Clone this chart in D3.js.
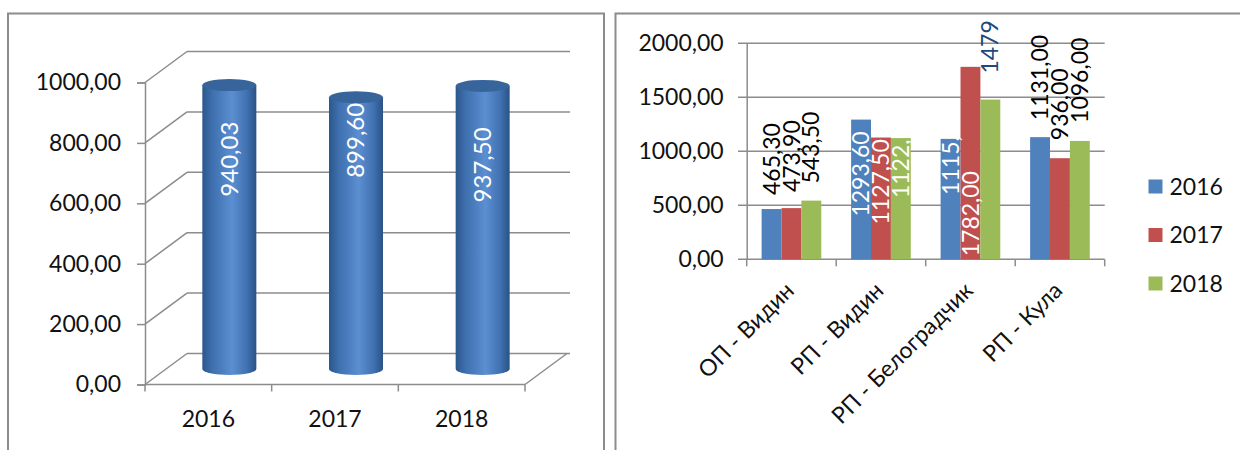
<!DOCTYPE html>
<html>
<head>
<meta charset="utf-8">
<script src="https://cdn.jsdelivr.net/npm/d3@7"></script>
<style>
  body { margin: 0; background: #fff; }
  svg { display: block; font-family: Lato, "Open Sans", sans-serif; }
</style>
</head>
<body>
<script>
// data - left chart (cylinders)
var years = ["2016", "2017", "2018"];
var totals = [940.03, 899.60, 937.50];
var totalLabels = ["940,03", "899,60", "937,50"];
var leftTicks = [0, 200, 400, 600, 800, 1000];

// data - right chart (grouped bars)
var units = ["ОП - Видин", "РП - Видин", "РП - Белоградчик", "РП - Кула"];
var values2016 = [465.30, 1293.60, 1115.00, 1131.00];
var values2017 = [473.90, 1127.50, 1782.00, 936.00];
var values2018 = [543.50, 1122.50, 1479.00, 1096.00];
var labels2016 = ["465,30", "1293,60", "1115,00", "1131,00"];
var labels2017 = ["473,90", "1127,50", "1782,00", "936,00"];
var labels2018 = ["543,50", "1122,50", "1479", "1096,00"];
var rightTicks = [0, 500, 1000, 1500, 2000];

var fmt = function(v){ return d3.format(".2f")(v).replace(".", ","); };

var svg = d3.select("body").append("svg")
    .attr("width", 1240)
    .attr("height", 450);

var defs = svg.append("defs");
var grad = defs.append("linearGradient").attr("id", "cyl")
    .attr("x1", "0%").attr("x2", "100%").attr("y1", "0%").attr("y2", "0%");
[["0%", "#2b578b"], ["18%", "#3e6fae"], ["55%", "#5b8fd1"], ["82%", "#4172b2"], ["100%", "#2a5285"]]
  .forEach(function(s){ grad.append("stop").attr("offset", s[0]).attr("stop-color", s[1]); });

// panel frames
svg.append("rect").attr("x", 8).attr("y", 13.5).attr("width", 596).attr("height", 460)
    .attr("fill", "none").attr("stroke", "#8c8c8c").attr("stroke-width", 2);
svg.append("rect").attr("x", 615.5).attr("y", 13.5).attr("width", 660).attr("height", 460)
    .attr("fill", "none").attr("stroke", "#8c8c8c").attr("stroke-width", 2);

var gridCol = "#8c8c8c";

// ---------------- left chart ----------------
var dx = 42, dy = -31;
var x = d3.scaleBand().domain(years).range([145, 525]);
var y = d3.scaleLinear().domain([0, 1000]).range([384.5, 82.5]);

var left = svg.append("g");

// back wall gridlines + side diagonals
leftTicks.forEach(function(t){
  left.append("line")
      .attr("x1", 145 + dx).attr("x2", 570)
      .attr("y1", y(t) + dy).attr("y2", y(t) + dy)
      .attr("stroke", gridCol).attr("stroke-width", 1.5);
  left.append("line")
      .attr("x1", 145).attr("x2", 145 + dx)
      .attr("y1", y(t)).attr("y2", y(t) + dy)
      .attr("stroke", gridCol).attr("stroke-width", 1.5);
});
// floor front edge and right edge
left.append("line").attr("x1", 145).attr("x2", 525).attr("y1", y(0)).attr("y2", y(0))
    .attr("stroke", gridCol).attr("stroke-width", 1.5);
left.append("line").attr("x1", 525).attr("x2", 525 + dx).attr("y1", y(0)).attr("y2", y(0) + dy)
    .attr("stroke", gridCol).attr("stroke-width", 1.5);

// y axis
left.append("g")
    .attr("transform", "translate(145,0)")
    .call(d3.axisLeft(y).tickValues(leftTicks).tickSize(8).tickFormat(fmt).tickPadding(16))
    .call(function(g){
      g.select(".domain").attr("stroke", gridCol).attr("stroke-width", 1.5);
      g.selectAll(".tick line").attr("stroke", gridCol).attr("stroke-width", 1.5);
      g.selectAll("text").attr("font-size", 23).attr("fill", "#111").attr("font-family", "Lato");
    });

// x axis
left.append("g")
    .attr("transform", "translate(0," + y(0) + ")")
    .call(d3.axisBottom(x).tickSize(0).tickPadding(26))
    .call(function(g){
      g.select(".domain").remove();
      g.selectAll("text").attr("font-size", 23).attr("fill", "#111").attr("font-family", "Lato");
    });
// category boundary ticks
x.domain().concat(["end"]).forEach(function(d, i){
  var xx = i < years.length ? x(d) : 525;
  left.append("line").attr("x1", xx).attr("x2", xx).attr("y1", y(0)).attr("y2", y(0) + 7)
      .attr("stroke", gridCol).attr("stroke-width", 1.5);
});

// cylinders
var rx = 27, ry = 6;
var cyl = left.selectAll(".cyl").data(years).enter().append("g").attr("class", "cyl");
cyl.append("path")
    .attr("d", function(d, i){
      var cx = x(d) + x.bandwidth() / 2 + dx / 2;
      var top = y(totals[i]) + dy / 2, bot = y(0) + dy / 2;
      return "M" + (cx - rx) + "," + top + "L" + (cx - rx) + "," + bot +
             "A" + rx + "," + ry + " 0 0 0 " + (cx + rx) + "," + bot +
             "L" + (cx + rx) + "," + top + "Z";
    })
    .attr("fill", "url(#cyl)");
cyl.append("ellipse")
    .attr("cx", function(d){ return x(d) + x.bandwidth() / 2 + dx / 2; })
    .attr("cy", function(d, i){ return y(totals[i]) + dy / 2; })
    .attr("rx", rx).attr("ry", ry)
    .attr("fill", "#38649c");

// value labels in cylinders
var cylLabelShift = [74, 43, 79];
cyl.append("text")
    .attr("transform", function(d, i){
      var cx = x(d) + x.bandwidth() / 2 + dx / 2;
      var cy = y(totals[i]) + dy / 2 + cylLabelShift[i];
      return "translate(" + cx + "," + cy + ") rotate(-90)";
    })
    .attr("text-anchor", "middle")
    .attr("dy", "0.35em")
    .attr("font-size", 24)
    .attr("fill", "#fff")
    .text(function(d, i){ return totalLabels[i]; });

// ---------------- right chart ----------------
var series = [
  {name: "2016", values: values2016, labels: labels2016, color: "#4f81bd"},
  {name: "2017", values: values2017, labels: labels2017, color: "#c0504d"},
  {name: "2018", values: values2018, labels: labels2018, color: "#9bbb59"}
];

var x0 = d3.scaleBand().domain(units).range([746.7, 1104.7]);
var barW = x0.bandwidth() / 4.5;
var x1 = d3.scaleBand().domain(series.map(function(s){ return s.name; }))
    .range([0.75 * barW, 3.75 * barW]);
var y2 = d3.scaleLinear().domain([0, 2000]).range([259.3, 43.3]);

var right = svg.append("g");

// gridlines
right.selectAll(".grid").data(rightTicks).enter().append("line")
    .attr("x1", 738).attr("x2", 1104.7)
    .attr("y1", function(d){ return y2(d); }).attr("y2", function(d){ return y2(d); })
    .attr("stroke", gridCol).attr("stroke-width", 1.5);

right.append("g")
    .attr("transform", "translate(746.7,0)")
    .call(d3.axisLeft(y2).tickValues(rightTicks).tickSize(0).tickFormat(fmt).tickPadding(23))
    .call(function(g){
      g.select(".domain").attr("stroke", gridCol).attr("stroke-width", 1.5);
      g.selectAll("text").attr("font-size", 23).attr("fill", "#111").attr("font-family", "Lato");
    });

// x axis boundary ticks
units.concat(["end"]).forEach(function(d, i){
  var xx = i < units.length ? x0(d) : 1104.7;
  right.append("line").attr("x1", xx).attr("x2", xx).attr("y1", y2(0)).attr("y2", y2(0) + 7)
      .attr("stroke", gridCol).attr("stroke-width", 1.5);
});

// category labels, rotated
right.selectAll(".cat").data(units).enter().append("text")
    .attr("transform", function(d){
      return "translate(" + (x0(d) + x0.bandwidth() / 2 + 4) + "," + 292 + ") rotate(-45)";
    })
    .attr("text-anchor", "end")
    .attr("font-size", 23)
    .attr("fill", "#111")
    .text(function(d){ return d; });

// bars
var groups = right.selectAll(".ser").data(series).enter().append("g");
groups.selectAll("rect").data(function(s){
      return units.map(function(u, i){ return {s: s, u: u, v: s.values[i]}; });
    })
    .enter().append("rect")
    .attr("x", function(d){ return x0(d.u) + x1(d.s.name); })
    .attr("width", x1.bandwidth())
    .attr("y", function(d){ return y2(d.v); })
    .attr("height", function(d){ return y2(0) - y2(d.v); })
    .attr("fill", function(d){ return d.s.color; });

// label start offsets from bar top (negative = above bar), "base" = from bottom
var labelStart = [
  [-14, 97, 56, -17],
  [-16, 87, "base", -18],
  [-17, 60, -26, -18]
];
var labelColor = [
  ["#000", "#fff", "#fff", "#000"],
  ["#000", "#fff", "#fff", "#000"],
  ["#000", "#fff", "#1f497d", "#000"]
];
series.forEach(function(s, si){
  right.selectAll(".lab" + si).data(units).enter().append("text")
      .attr("transform", function(u, i){
        var cx = x0(u) + x1(s.name) + x1.bandwidth() / 2;
        var off = labelStart[si][i];
        var sy = off === "base" ? y2(0) - 3 : y2(s.values[i]) + off;
        return "translate(" + cx + "," + sy + ") rotate(-90)";
      })
      .attr("text-anchor", "start")
      .attr("dy", "0.35em")
      .attr("font-size", 23)
      .attr("fill", function(u, i){ return labelColor[si][i]; })
      .text(function(u, i){ return s.labels[i]; });
});

// legend
var legend = right.selectAll(".leg").data(series).enter().append("g")
    .attr("transform", function(d, i){ return "translate(1148.5," + (186.5 + i * 48.5) + ")"; });
legend.append("rect").attr("x", 0).attr("y", -7).attr("width", 14).attr("height", 14)
    .attr("fill", function(d){ return d.color; });
legend.append("text").attr("x", 21).attr("dy", "0.35em")
    .attr("font-size", 23).attr("fill", "#111")
    .text(function(d){ return d.name; });
</script>
</body>
</html>
